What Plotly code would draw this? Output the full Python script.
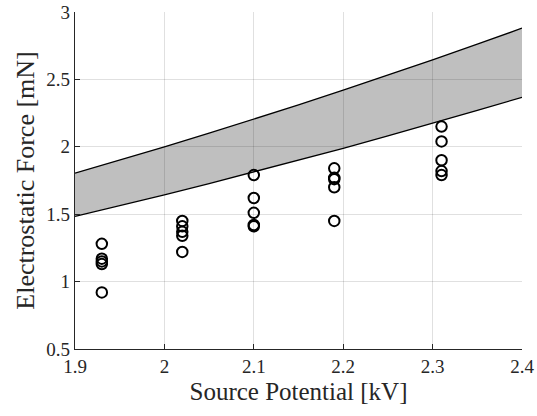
import plotly.graph_objects as go

# Band (model prediction)
band_x = [1.90, 1.95, 2.00, 2.05, 2.10, 2.15, 2.20, 2.25, 2.30, 2.35, 2.40]
band_upper = [1.805, 1.901, 2.000, 2.101, 2.205, 2.311, 2.420, 2.531, 2.645, 2.761, 2.880]
band_lower = [1.484, 1.563, 1.644, 1.727, 1.813, 1.900, 1.989, 2.081, 2.174, 2.270, 2.367]

# Measured points
meas_x = [1.93] * 5 + [2.02] * 5 + [2.10] * 5 + [2.19] * 5 + [2.31] * 5
meas_y = [1.28, 1.17, 1.15, 1.13, 0.92,
          1.45, 1.41, 1.37, 1.34, 1.22,
          1.79, 1.62, 1.51, 1.42, 1.41,
          1.84, 1.77, 1.76, 1.70, 1.45,
          2.15, 2.04, 1.90, 1.82, 1.79]

x_ticks = [1.9, 2.0, 2.1, 2.2, 2.3, 2.4]
x_tick_labels = ["1.9", "2", "2.1", "2.2", "2.3", "2.4"]
y_ticks = [0.5, 1.0, 1.5, 2.0, 2.5, 3.0]
y_tick_labels = ["0.5", "1", "1.5", "2", "2.5", "3"]

FONT = "Liberation Serif"

fig = go.Figure()
fig.add_trace(go.Scatter(x=band_x, y=band_lower, mode="lines",
                         line=dict(color="black", width=1.3), showlegend=False))
fig.add_trace(go.Scatter(x=band_x, y=band_upper, mode="lines", fill="tonexty",
                         fillcolor="rgba(0,0,0,0.25)",
                         line=dict(color="black", width=1.3), showlegend=False))
fig.add_trace(go.Scatter(x=meas_x, y=meas_y, mode="markers",
                         marker=dict(symbol="circle-open", size=10.5, color="black",
                                     line=dict(width=2, color="black")),
                         showlegend=False))

axis_common = dict(
    showline=True, linecolor="#262626", linewidth=1.2,
    ticks="inside", ticklen=5, tickwidth=1, tickcolor="#262626",
    showgrid=True, gridcolor="rgba(0,0,0,0.12)", gridwidth=1,
    zeroline=False, mirror=False, automargin=False,
    tickfont=dict(family=FONT, size=19, color="#262626"),
)

fig.update_layout(
    width=537, height=416,
    margin=dict(l=75, r=15, t=12, b=67),
    paper_bgcolor="white", plot_bgcolor="white",
    xaxis=dict(range=[1.9, 2.4], tickvals=x_ticks, ticktext=x_tick_labels,
               title=dict(text="Source Potential [kV]", standoff=6,
                          font=dict(family=FONT, size=25, color="#262626")),
               **axis_common),
    yaxis=dict(range=[0.5, 3.0], tickvals=y_ticks, ticktext=y_tick_labels,
               title=dict(text="Electrostatic Force [mN]", standoff=4,
                          font=dict(family=FONT, size=26, color="#262626")),
               **axis_common),
)

fig.write_html(
    "out.html",
    config={"displayModeBar": False},
    post_script="document.body.style.margin='0';document.body.style.overflow='hidden';",
)
